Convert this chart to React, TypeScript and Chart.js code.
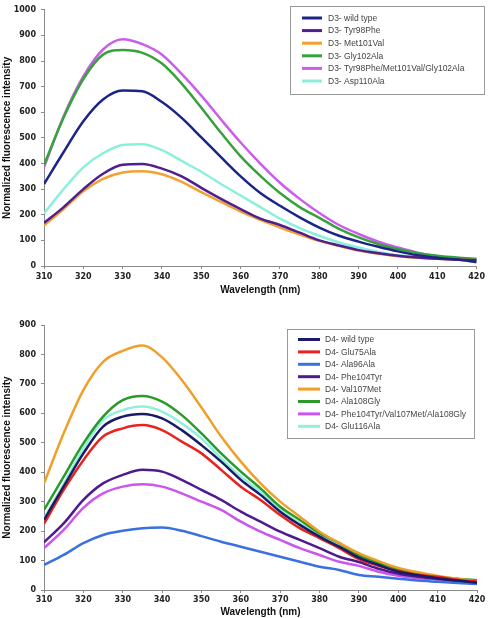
import React, { useEffect, useRef } from "react";
import { Chart, registerables } from "chart.js";

Chart.register(...registerables);

const WAVELENGTHS = [310, 315, 320, 325, 330, 335, 340, 345, 350, 355, 360, 365, 370, 375, 380, 385, 390, 395, 400, 405, 410, 415, 420];

// ---- D3 chart ----
const D3_LABELS = [
  "D3- wild type",
  "D3- Tyr98Phe",
  "D3- Met101Val",
  "D3- Gly102Ala",
  "D3- Tyr98Phe/Met101Val/Gly102Ala",
  "D3- Asp110Ala",
];
const D3_COLORS = ["#1c2488", "#4f1f8f", "#f2a132", "#38a23a", "#cc5cec", "#8af0dc"];
const D3_WILD = [320, 445, 565, 650, 685, 682, 640, 578, 502, 425, 350, 285, 235, 190, 150, 118, 95, 75, 57, 42, 32, 25, 15];
const D3_TYR98 = [168, 230, 300, 360, 395, 398, 380, 350, 305, 262, 222, 185, 160, 130, 100, 80, 62, 50, 40, 33, 28, 25, 22];
const D3_MET101 = [158, 222, 292, 340, 365, 370, 358, 328, 288, 250, 212, 180, 150, 123, 98, 78, 60, 48, 38, 32, 28, 25, 22];
const D3_GLY102 = [395, 580, 730, 825, 843, 832, 790, 712, 618, 520, 428, 352, 285, 230, 188, 145, 112, 86, 66, 50, 40, 33, 28];
const D3_TRIPLE = [385, 585, 740, 845, 885, 866, 825, 750, 665, 572, 482, 400, 325, 262, 207, 160, 125, 95, 72, 52, 38, 30, 25];
const D3_ASP110 = [205, 300, 385, 440, 472, 475, 452, 410, 368, 320, 275, 230, 185, 148, 118, 92, 72, 55, 42, 36, 30, 26, 22];
const D3_SERIES = [D3_WILD, D3_TYR98, D3_MET101, D3_GLY102, D3_TRIPLE, D3_ASP110];
const D3_Y_TICKS = [0, 100, 200, 300, 400, 500, 600, 700, 800, 900, 1000];

// ---- D4 chart ----
const D4_LABELS = [
  "D4- wild type",
  "D4- Glu75Ala",
  "D4- Ala96Ala",
  "D4- Phe104Tyr",
  "D4- Val107Met",
  "D4- Ala108Gly",
  "D4- Phe104Tyr/Val107Met/Ala108Gly",
  "D4- Glu116Ala",
];
const D4_COLORS = ["#1a1a66", "#e8231f", "#3a70e0", "#4e1a8f", "#f0a028", "#2a9a2a", "#cc55ee", "#90f0dc"];
const D4_WILD = [238, 352, 464, 555, 589, 598, 583, 543, 492, 436, 374, 323, 266, 221, 181, 147, 110, 85, 62, 50, 40, 32, 25];
const D4_GLU75 = [225, 340, 441, 521, 549, 560, 543, 504, 464, 408, 351, 306, 255, 210, 176, 142, 105, 82, 65, 52, 45, 35, 28];
const D4_ALA96 = [85, 119, 159, 187, 201, 210, 212, 201, 183, 164, 147, 130, 113, 96, 79, 68, 51, 45, 38, 32, 28, 24, 20];
const D4_PHE104 = [162, 226, 306, 362, 391, 408, 402, 374, 340, 306, 266, 232, 198, 170, 142, 113, 95, 72, 55, 45, 38, 30, 22];
const D4_VAL107 = [362, 532, 679, 775, 812, 830, 790, 713, 620, 521, 436, 362, 300, 249, 198, 160, 125, 98, 75, 60, 48, 38, 30];
const D4_ALA108 = [272, 385, 498, 589, 645, 659, 640, 594, 532, 464, 402, 345, 283, 238, 193, 159, 118, 92, 70, 56, 45, 38, 33];
const D4_TRIPLE = [142, 204, 279, 328, 351, 359, 351, 328, 300, 272, 232, 198, 170, 142, 119, 96, 82, 62, 48, 40, 35, 28, 22];
const D4_GLU116 = [243, 360, 481, 577, 611, 623, 606, 566, 515, 447, 385, 334, 272, 226, 187, 153, 115, 88, 68, 52, 42, 32, 25];
const D4_SERIES = [D4_WILD, D4_GLU75, D4_ALA96, D4_PHE104, D4_VAL107, D4_ALA108, D4_TRIPLE, D4_GLU116];
const D4_Y_TICKS = [0, 100, 200, 300, 400, 500, 600, 700, 800, 900];

const X_TITLE = "Wavelength (nm)";
const Y_TITLE = "Normalized fluorescence intensity";

type LegendOpts = {
  x: number;
  y: number;
  w: number;
  h: number;
  firstRow: number;
  rowH: number;
  lineX1: number;
  lineX2: number;
  textX: number;
};

const boxLegend = {
  id: "boxLegend",
  afterDraw(chart: any, _args: any, opts: LegendOpts) {
    const ctx = chart.ctx as CanvasRenderingContext2D;
    ctx.save();
    ctx.fillStyle = "#ffffff";
    ctx.fillRect(opts.x, opts.y, opts.w, opts.h);
    ctx.strokeStyle = "#9a9a9a";
    ctx.lineWidth = 1;
    ctx.strokeRect(opts.x + 0.5, opts.y + 0.5, opts.w, opts.h);
    ctx.font = "8.5px 'Liberation Sans', Arial, sans-serif";
    ctx.textBaseline = "middle";
    chart.data.datasets.forEach((ds: any, i: number) => {
      const yy = opts.firstRow + i * opts.rowH;
      ctx.strokeStyle = ds.borderColor;
      ctx.lineWidth = 3;
      ctx.beginPath();
      ctx.moveTo(opts.lineX1, yy);
      ctx.lineTo(opts.lineX2, yy);
      ctx.stroke();
      ctx.fillStyle = "#444444";
      ctx.fillText(ds.label, opts.textX, yy + 0.5);
    });
    ctx.restore();
  },
};

function makeConfig(
  labels: string[],
  colors: string[],
  series: number[][],
  yTicks: number[],
  xHeight: number,
  padTop: number,
  padRight: number,
  xTitlePadBottom: number,
  xTickPad: number,
  legend: LegendOpts
): any {
  const tickFont = { family: "'DejaVu Sans', sans-serif", size: 8, weight: "bold" as const };
  const titleFont = { family: "'Liberation Sans', Arial, sans-serif", size: 10, weight: "bold" as const };
  return {
    type: "line",
    data: {
      datasets: series.map((vals, i) => ({
        label: labels[i],
        data: WAVELENGTHS.map((w, j) => ({ x: w, y: vals[j] })),
        borderColor: colors[i],
        backgroundColor: colors[i],
        borderWidth: 2.5,
        pointRadius: 0,
        cubicInterpolationMode: "monotone",
        fill: false,
      })),
    },
    options: {
      animation: false,
      responsive: true,
      maintainAspectRatio: false,
      layout: { padding: { top: padTop, right: padRight, left: 0, bottom: 0 } },
      plugins: {
        legend: { display: false },
        tooltip: { enabled: false },
        boxLegend: legend,
      },
      scales: {
        x: {
          type: "linear",
          min: 310,
          max: 420,
          afterBuildTicks: (s: any) => {
            s.ticks = WAVELENGTHS.filter((w) => w % 10 === 0).map((v) => ({ value: v }));
          },
          ticks: {
            font: tickFont,
            color: "#222",
            padding: xTickPad,
            maxRotation: 0,
            autoSkip: false,
            callback: (v: any) => String(v),
          },
          grid: { display: true, drawOnChartArea: false, drawTicks: true, tickLength: 3, color: "#8a8a8a" },
          border: { display: true, color: "#8a8a8a", width: 1 },
          title: { display: true, text: X_TITLE, font: titleFont, color: "#111", padding: { top: 0, bottom: xTitlePadBottom } },
          afterFit: (s: any) => {
            s.height = xHeight;
          },
        },
        y: {
          type: "linear",
          min: yTicks[0],
          max: yTicks[yTicks.length - 1],
          afterBuildTicks: (s: any) => {
            s.ticks = yTicks.map((v) => ({ value: v }));
          },
          ticks: { font: tickFont, color: "#222", padding: 5, autoSkip: false, callback: (v: any) => String(v) },
          grid: { display: true, drawOnChartArea: false, drawTicks: true, tickLength: 3, color: "#8a8a8a" },
          border: { display: true, color: "#8a8a8a", width: 1 },
          title: { display: true, text: Y_TITLE, font: titleFont, color: "#111", padding: { top: 1, bottom: 0 } },
          afterFit: (s: any) => {
            s.width = 44;
          },
        },
      },
    },
    plugins: [boxLegend],
  };
}

function ChartCanvas({ config, top, height }: { config: any; top: number; height: number }) {
  const ref = useRef<HTMLCanvasElement | null>(null);
  useEffect(() => {
    if (!ref.current) return;
    const chart = new Chart(ref.current, config);
    return () => chart.destroy();
  }, [config]);
  return (
    <div style={{ position: "absolute", left: 0, top, width: 488, height }}>
      <canvas ref={ref} />
    </div>
  );
}

const topConfig = makeConfig(D3_LABELS, D3_COLORS, D3_SERIES, D3_Y_TICKS, 34, 4, 9, 4, 3, {
  x: 290,
  y: 6,
  w: 194,
  h: 88,
  firstRow: 18,
  rowH: 12.6,
  lineX1: 302,
  lineX2: 322,
  textX: 328,
});

const bottomConfig = makeConfig(D4_LABELS, D4_COLORS, D4_SERIES, D4_Y_TICKS, 28, 15, 11, 0, 2, {
  x: 287,
  y: 19,
  w: 187,
  h: 109,
  firstRow: 29.5,
  rowH: 12.4,
  lineX1: 298,
  lineX2: 320,
  textX: 325,
});

export default function App() {
  return (
    <div style={{ position: "absolute", left: 0, top: 0, width: 488, height: 618, background: "#fff", overflow: "hidden" }}>
      <ChartCanvas config={topConfig} top={0} height={300} />
      <ChartCanvas config={bottomConfig} top={310} height={308} />
    </div>
  );
}
